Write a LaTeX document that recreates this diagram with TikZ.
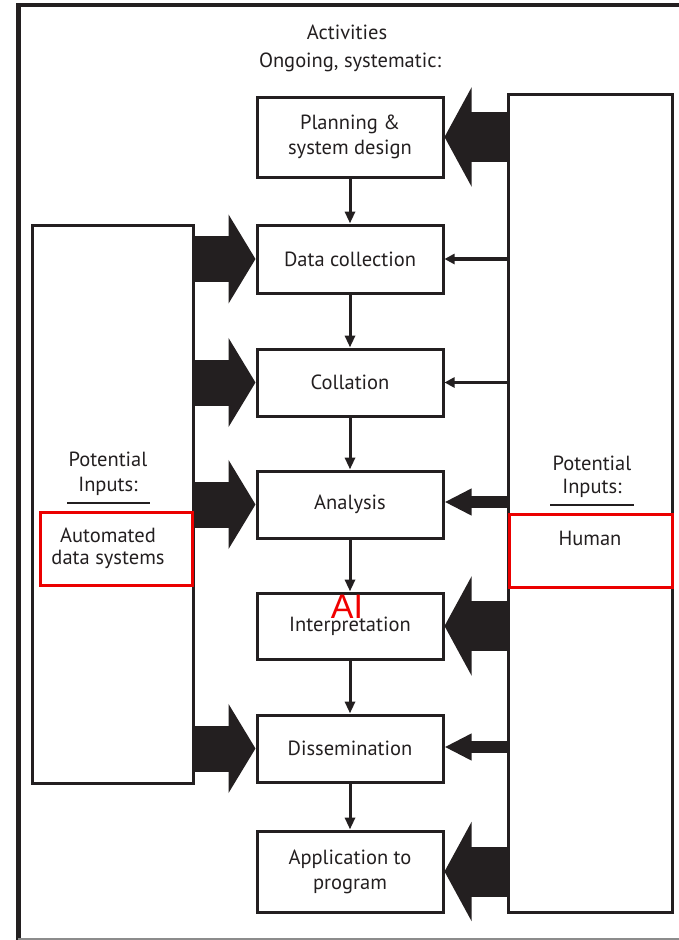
\documentclass[tikz,border=0pt]{standalone}
\usepackage{fontspec}
\setmainfont{PT Sans}
\newfontfamily\aifont{Liberation Sans}
\usetikzlibrary{arrows.meta}
\definecolor{ink}{HTML}{231F20}
\begin{document}
\begin{tikzpicture}[x=1pt,y=-1pt,
  act/.style={draw=ink,line width=3pt,minimum width=186pt,inner sep=0pt,align=center,
    font=\fontsize{20.5}{25}\selectfont,text=ink},
  side/.style={draw=ink,line width=3pt,inner sep=0pt},
  lbl/.style={font=\fontsize{20.5}{25}\selectfont,text=ink,inner sep=0pt},
  redbox/.style={draw={rgb,255:red,235;green,0;blue,0},line width=3pt},
  downarr/.style={draw=ink,line width=3pt,-{Triangle[width=10pt,length=12pt]}},
  bigarrL/.style={draw=ink,line width=46pt,-{Triangle[width=88pt,length=27pt]}},
  bigarrR/.style={draw=ink,line width=50pt,-{Triangle[width=98pt,length=27pt]}},
  midarr/.style={draw=ink,line width=12pt,-{Triangle[width=25pt,length=27pt]}},
  thinarr/.style={draw=ink,line width=3.5pt,-{Triangle[width=10pt,length=10pt]}}
]
\useasboundingbox (0,0) rectangle (679,940);
% outer frame
\draw[ink,line width=4pt] (16,5) -- (679,5);
\draw[ink,line width=5pt] (18.5,3) -- (18.5,940);
\draw[black!45,line width=1.5pt] (18,939) -- (679,939);

% headings
\node[lbl] (act) at (347,32) {Activities};
\node[lbl] (ong) at (350,62) {Ongoing, systematic:};

% side boxes
\node[side,minimum width=161pt,minimum height=558pt] (lb) at (112.5,504) {};
\node[side,minimum width=164pt,minimum height=818pt] (rb) at (590,503) {};

% activity boxes
\node[act,minimum height=80pt] (plan) at (350,137) {Planning \&\\system design};
\node[act,minimum height=68pt] (dc) at (350,259) {Data collection};
\node[act,minimum height=67pt] (col) at (350,382.5) {Collation};
\node[act,minimum height=67pt] (ana) at (350,504.5) {Analysis};
\node[act,minimum height=66pt] (int) at (350,626) {Interpretation};
\node[act,minimum height=67pt] (dis) at (350,748.5) {Dissemination};
\node[act,minimum height=81pt] (app) at (350,871.5) {Application to\\program};

% down arrows
\draw[downarr] (plan.south) -- (dc.north);
\draw[downarr] (dc.south) -- (col.north);
\draw[downarr] (col.south) -- (ana.north);
\draw[downarr] (ana.south) -- (int.north);
\draw[downarr] (int.south) -- (dis.north);
\draw[downarr] (dis.south) -- (app.north);

% left (automated) arrows
\draw[bigarrL] (lb.east |- dc) -- (dc.west);
\draw[bigarrL] (lb.east |- col) -- (col.west);
\draw[bigarrL] (lb.east |- ana) -- (ana.west);
\draw[bigarrL] (lb.east |- dis) -- (dis.west);

% right (human) arrows
\draw[bigarrR] (rb.west |- plan) -- (plan.east);
\draw[thinarr] (rb.west |- dc) -- (dc.east);
\draw[thinarr] (rb.west |- col) -- (col.east);
\draw[midarr] ([yshift=2.5pt]rb.west |- ana) -- ([yshift=2.5pt]ana.east);
\draw[bigarrR] (rb.west |- int) -- (int.east);
\draw[midarr] ([yshift=1.5pt]rb.west |- dis) -- ([yshift=1.5pt]dis.east);
\draw[bigarrR] (rb.west |- app) -- (app.east);

% left side labels
\node[lbl] (lpot) at (108,459) {Potential};
\node[lbl] (linp) at (108,486) {Inputs:};
\coordinate (lu1) at (67,503);
\coordinate (lu2) at (150,503);
\draw[ink,line width=2.5pt] (lu1) -- (lu2);
\node[lbl] (lauto) at (108,535) {Automated};
\node[lbl] (ldata) at (108,559) {data systems};
\draw[redbox] (40,512) rectangle (192,585);

% right side labels
\node[lbl] (rpot) at (592,463) {Potential};
\node[lbl] (rinp) at (592,488) {Inputs:};
\coordinate (ru1) at (550,505);
\coordinate (ru2) at (634,505);
\draw[ink,line width=2.5pt] (ru1) -- (ru2);
\node[lbl] (rhum) at (590,538) {Human};
\draw[redbox] (509,514) rectangle (672,587);

% AI label
\node[font=\aifont\fontsize{34}{34}\selectfont,text={rgb,255:red,240;green,0;blue,0},inner sep=0pt] (ai) at (347,607) {AI};
\end{tikzpicture}
\end{document}
